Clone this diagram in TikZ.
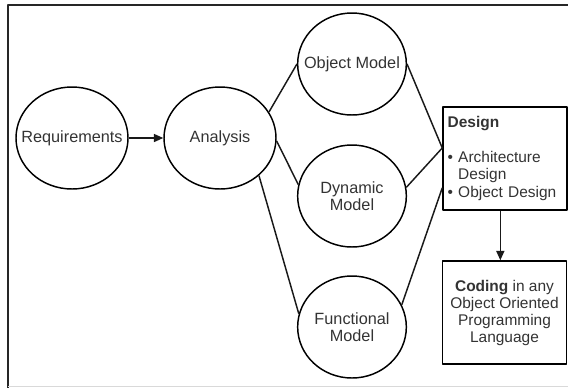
\documentclass[tikz,border=0pt]{standalone}
\usepackage{fontspec}
\setmainfont{Liberation Sans}
\usetikzlibrary{shapes.geometric,arrows.meta}
\begin{document}
\begin{tikzpicture}[x=0.75pt, y=-0.75pt, font=\fontsize{11.6}{13.1}\selectfont, line join=round, >={Triangle[length=7pt,width=6pt]},
  phase/.style={ellipse, draw, line width=1.1pt, text=black!80, font=\fontsize{12.2}{13.1}\selectfont, align=center, inner xsep=-12pt, inner ysep=0pt, minimum width=84pt, minimum height=76.5pt},
  model/.style={phase, minimum width=81.5pt},
  stagebox/.style={rectangle, draw, line width=1.1pt, text=black!80, inner sep=0pt, minimum width=93pt, minimum height=77.25pt}]
\useasboundingbox (0,0) rectangle (568,387);
% frame
\draw[line width=1.5pt, black!85] (7.5,390) -- (7.5,4.5) -- (572,4.5);
\draw[black!15] (7.5,386) -- (572,386);

\node[phase] (req) at (72,138) {Requirements};
\node[phase] (ana) at (220,138) {Analysis};
\node[model] (obj) at (352,64) {Object Model};
\node[model] (dyn) at (352,196) {Dynamic\\Model};
\node[model] (fun) at (352,327) {Functional\\Model};
\node[stagebox, align=left, text width=86pt] (des) at (505,158.5)
  {\textbf{Design}\\[13pt]• Architecture\\\phantom{•} Design\\• Object Design};
\node[stagebox, align=center, font=\fontsize{11.6}{12.75}\selectfont] (cod) at (504.5,312.5)
  {\textbf{Coding} in any\\Object Oriented\\Programming\\Language};

\begin{scope}[line width=1.1pt, black!90]
\draw[->] (req.east) -- (ana.west);
\draw (ana.28) -- (obj.west);
\draw (ana.-3) -- (dyn.168);
\draw (ana.-44) -- (fun.166);
\draw (obj.east) -- ([yshift=7.9pt]des.west);
\draw (dyn.9) -- ([yshift=7.9pt]des.west);
\draw (fun.24) -- ([yshift=-22pt]des.west);
\draw[->] ([xshift=-3.5pt]des.south) -- ([xshift=-3.5pt]des.south |- cod.north);
\end{scope}
\end{tikzpicture}
\end{document}
